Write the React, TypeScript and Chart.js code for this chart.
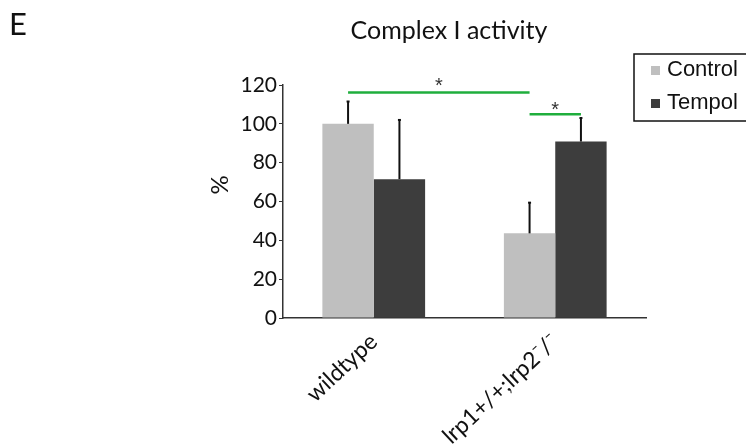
import React, { useEffect, useRef } from "react";
import { Chart, registerables } from "chart.js";

Chart.register(...registerables);

const categories = ["wildtype", "lrp1+/+;lrp2\u207B/\u207B"];
const seriesNames = ["Control", "Tempol"];
const controlValues = [100, 43.6];
const tempolValues = [71.5, 90.9];
const controlErrors = [11.5, 15.8];
const tempolErrors = [30.5, 12.1];
const yTicks = [0, 20, 40, 60, 80, 100, 120];

// significance brackets: [fromCategory, fromSeries], [toCategory, toSeries]
const sigFrom = [[0, 0], [1, 0]];
const sigTo = [[1, 0], [1, 1]];
const sigLineValues = [116.2, 105];
const sigStarValues = [121.5, 108.8];
const sigLabels = ["*", "*"];

const MYRIAD = "Lato, 'Open Sans', sans-serif";
const ARIAL = "'Liberation Sans', Arial, sans-serif";

const overlayPlugin = {
  id: "overlay",
  afterDatasetsDraw(chart: any) {
    const ctx = chart.ctx as CanvasRenderingContext2D;
    const y = chart.scales.y;
    const errs = [controlErrors, tempolErrors];
    const vals = [controlValues, tempolValues];
    ctx.save();
    chart.data.datasets.forEach((ds: any, i: number) => {
      const meta = chart.getDatasetMeta(i);
      meta.data.forEach((el: any, j: number) => {
        const top = y.getPixelForValue(vals[i][j] + errs[i][j]);
        ctx.strokeStyle = "#111";
        ctx.lineWidth = 2;
        ctx.beginPath();
        ctx.moveTo(el.x, el.y);
        ctx.lineTo(el.x, top);
        ctx.stroke();
        ctx.beginPath();
        ctx.moveTo(el.x - 1.5, top);
        ctx.lineTo(el.x + 1.5, top);
        ctx.stroke();
      });
    });
    sigFrom.forEach((f, k) => {
      const t = sigTo[k];
      const x1 = chart.getDatasetMeta(f[1]).data[f[0]].x;
      const x2 = chart.getDatasetMeta(t[1]).data[t[0]].x;
      const ly = y.getPixelForValue(sigLineValues[k]);
      ctx.strokeStyle = "#1fae3c";
      ctx.lineWidth = 2.5;
      ctx.beginPath();
      ctx.moveTo(x1, ly);
      ctx.lineTo(x2, ly);
      ctx.stroke();
      ctx.fillStyle = "#333";
      ctx.font = `20px ${ARIAL}`;
      ctx.textAlign = "center";
      ctx.textBaseline = "middle";
      ctx.fillText(sigLabels[k], (x1 + x2) / 2, y.getPixelForValue(sigStarValues[k]) + 4);
    });
    ctx.restore();
  },
  afterDraw(chart: any) {
    const ctx = chart.ctx as CanvasRenderingContext2D;
    ctx.save();
    ctx.fillStyle = "#111";
    ctx.font = `31px ${MYRIAD}`;
    ctx.textAlign = "left";
    ctx.textBaseline = "alphabetic";
    ctx.fillText("E", 9, 35);
    ctx.font = `25px ${MYRIAD}`;
    ctx.textAlign = "center";
    ctx.fillText("Complex I activity", 449, 39);
    ctx.save();
    ctx.translate(220, 185);
    ctx.rotate(-Math.PI / 2);
    ctx.font = `24px ${MYRIAD}`;
    ctx.textAlign = "center";
    ctx.textBaseline = "middle";
    ctx.fillText("%", 0, 0);
    ctx.restore();
    ctx.strokeStyle = "#111";
    ctx.lineWidth = 1.5;
    ctx.strokeRect(634, 54, 130, 67);
    const colors = ["#bfbfbf", "#3d3d3d"];
    const ys = [70, 103];
    chart.data.datasets.forEach((ds: any, i: number) => {
      ctx.fillStyle = colors[i];
      ctx.fillRect(651, ys[i] - 4, 9, 9);
      ctx.fillStyle = "#111";
      ctx.font = `22px ${ARIAL}`;
      ctx.textAlign = "left";
      ctx.textBaseline = "middle";
      ctx.fillText(ds.label, 667, ys[i]);
    });
    ctx.restore();
  },
};

export default function App() {
  const ref = useRef<HTMLCanvasElement>(null);
  useEffect(() => {
    if (!ref.current) return;
    const chart = new Chart(ref.current, {
      type: "bar",
      data: {
        labels: categories,
        datasets: [
          { label: seriesNames[0], data: controlValues, backgroundColor: "#bfbfbf" },
          { label: seriesNames[1], data: tempolValues, backgroundColor: "#3d3d3d" },
        ],
      },
      options: {
        animation: false,
        responsive: false,
        maintainAspectRatio: false,
        layout: { padding: { top: 85, right: 100, left: 0, bottom: 0 } },
        datasets: { bar: { categoryPercentage: 0.566, barPercentage: 1 } },
        plugins: { legend: { display: false }, tooltip: { enabled: false } },
        scales: {
          x: {
            grid: { display: false },
            border: { display: true, color: "#333", width: 1.5 },
            ticks: {
              minRotation: 43,
              maxRotation: 43,
              color: "#111",
              font: { family: MYRIAD, size: 23 },
              padding: 2,
            },
            afterFit: (s: any) => {
              s.height = 126;
            },
          },
          y: {
            min: 0,
            max: 120,
            afterBuildTicks: (s: any) => {
              s.ticks = yTicks.map((v) => ({ value: v }));
            },
            grid: { drawOnChartArea: false, drawTicks: true, tickLength: 4, color: "#333" },
            border: { display: true, color: "#333", width: 1.5 },
            ticks: { color: "#111", font: { family: MYRIAD, size: 21 }, padding: 2 },
            afterFit: (s: any) => {
              s.width = 283;
            },
          },
        },
      },
      plugins: [overlayPlugin],
    });
    return () => chart.destroy();
  }, []);
  return (
    <div style={{ position: "fixed", left: 0, top: 0, width: 746, height: 444, background: "#fff" }}>
      <canvas ref={ref} width={746} height={444} />
    </div>
  );
}
